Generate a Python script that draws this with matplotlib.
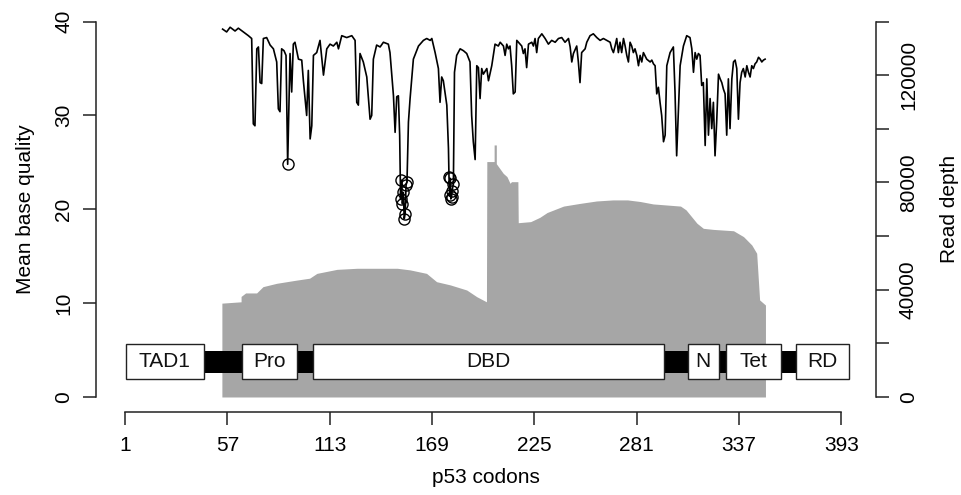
import matplotlib
matplotlib.use("Agg")
import matplotlib.pyplot as plt
from matplotlib.patches import Rectangle

plt.rcParams['font.family'] = ['Liberation Sans', 'DejaVu Sans']

# ---------------- data ----------------
qual_codon = [54.4, 56.6, 58.5, 61.2, 63.0, 65.8, 68.5, 70.3, 71.2, 72.1, 73.1, 74.0, 74.9, 75.8, 76.7,
              78.5, 80.4, 82.2, 84.0, 84.9, 85.8, 86.7, 88.0, 89.1, 90.0, 91.3, 92.2, 93.1, 94.0, 95.9,
              97.7, 98.6, 100.4, 101.3, 102.3, 103.2, 104.1, 105.9, 107.7, 109.6, 111.4, 113.2, 115.0,
              116.9, 117.8, 119.6, 122.3, 125.1, 126.9, 127.8, 128.7, 129.6, 131.4, 133.3, 135.1, 136.0,
              136.9, 138.7, 140.6, 142.4, 145.1, 146.0, 147.9, 148.8, 149.7, 150.6, 151.3, 151.8, 152.3,
              152.8, 153.3, 153.8, 154.3, 154.8, 155.3, 156.1, 157.0, 158.8, 161.6, 164.3, 166.1, 168.0,
              168.9, 170.7, 172.5, 173.4, 174.3, 175.2, 177.1, 178.0, 178.3, 178.7, 179.0, 179.3, 179.7,
              180.0, 180.7, 181.3, 182.5, 184.4, 186.2, 188.0, 189.8, 190.7, 191.6, 192.6, 193.5, 194.4,
              195.3, 196.2, 197.1, 199.0, 199.9, 201.7, 203.5, 205.3,
              206.3, 208.1, 209.0, 209.9, 210.8, 211.7, 212.6, 213.5, 214.5, 215.4, 217.2, 218.1, 219.0,
              219.9, 220.8, 221.8, 223.6, 224.5, 225.4, 226.3, 227.2, 229.1, 230.9, 232.7, 234.5, 236.4,
              238.2, 240.0, 241.8, 243.7, 244.6, 245.5, 246.4, 248.2, 249.1, 250.0, 250.9, 252.8, 253.7,
              255.5, 257.3, 259.2, 261.0, 262.8, 264.6, 266.5, 267.4, 268.3, 269.2, 270.1, 271.0, 271.9,
              272.8, 273.8, 274.7, 275.6, 276.5, 277.4, 278.3, 279.2, 280.1, 281.1, 282.0, 282.9, 283.8,
              284.7, 286.5, 288.4, 289.3, 290.2, 291.1, 292.0, 292.9, 293.8, 294.7, 295.7, 296.6, 297.5,
              299.3, 301.1, 302.0, 302.9, 303.9, 304.8, 306.6, 308.4, 310.2, 311.2, 312.1, 313.0, 313.9,
              314.8, 315.7, 316.6, 317.5, 318.5, 319.4, 320.3, 321.2, 322.1, 323.0, 323.9, 324.8, 325.8,
              326.7, 327.6, 328.5, 329.4, 330.3, 331.2, 332.1, 333.1, 334.0, 334.9, 335.8, 336.7, 337.6,
              338.5, 339.4, 340.4, 341.3, 342.2, 343.1, 344.0, 344.9, 345.8, 346.7, 347.7, 348.6, 349.5,
              350.4, 351.3]
qual_value = [39.2, 38.9, 39.4, 39.0, 39.3, 38.9, 38.5, 38.2, 29.1, 28.9, 37.1, 37.3, 33.5, 33.4, 38.2,
              38.3, 37.5, 37.1, 35.7, 30.7, 30.4, 37.1, 36.9, 36.4, 24.8, 36.6, 32.5, 37.6, 37.8, 36.0,
              35.9, 33.7, 30.0, 34.8, 27.5, 28.9, 36.4, 36.7, 38.0, 34.3, 37.1, 37.6, 37.4,
              37.8, 37.1, 38.5, 38.3, 38.5, 38.0, 31.4, 31.1, 36.6, 35.7, 34.1, 29.6, 30.0,
              36.0, 37.5, 37.3, 37.8, 37.6, 36.7, 32.1, 28.2, 32.0, 32.1, 27.9, 21.1, 23.1,
              20.6, 21.8, 19.0, 19.5, 22.6, 22.9, 29.3, 31.8, 36.0, 37.4, 38.0, 38.2, 38.0,
              38.2, 36.7, 35.0, 31.4, 34.1, 33.7, 31.1, 26.5, 23.4, 21.5, 23.3, 21.1, 21.3,
              22.0, 22.7, 34.6, 36.4, 37.1, 36.9, 36.6, 35.7, 30.0, 27.2, 25.3, 35.3, 35.1,
              31.8, 35.0, 34.4, 35.0, 33.7, 35.3, 37.6, 37.4,
              37.8, 37.4, 36.4, 37.6, 37.1, 37.4, 35.3, 32.3, 32.5, 38.0, 37.6, 37.4, 36.6,
              37.1, 35.1, 37.6, 37.8, 37.4, 38.2, 36.7, 38.2, 38.7, 38.2, 37.6, 38.0, 37.8,
              38.2, 38.3, 37.8, 38.2, 37.3, 35.7, 36.6, 37.4, 35.7, 33.5, 36.7, 37.1, 37.8,
              38.5, 38.7, 38.3, 38.0, 38.2, 38.0, 37.8, 37.1, 36.7, 37.4, 38.2, 36.7, 37.8,
              36.7, 38.2, 37.4, 36.4, 35.7, 37.8, 37.4, 36.7, 37.1, 36.4, 35.3, 36.4, 35.7,
              36.7, 36.0, 35.7, 35.9, 35.5, 35.3, 32.3, 33.0, 31.4, 30.0, 27.2, 27.9, 35.3,
              36.7, 37.3, 32.5, 25.7, 30.7, 35.3, 37.4, 38.5, 38.3, 37.1, 34.6, 36.7, 36.0,
              36.6, 36.4, 33.2, 33.5, 26.8, 33.9, 27.9, 31.8, 28.6, 31.4, 25.7, 29.3, 34.4,
              33.9, 33.5, 32.8, 32.3, 27.9, 33.9, 28.6, 33.9, 35.7, 35.9, 35.0, 29.6, 33.5,
              34.6, 35.0, 34.1, 35.3, 34.6, 34.1, 35.3, 35.0, 35.5, 35.7, 36.2, 36.0, 35.7,
              35.9, 36.0]
low_quality_threshold = 25

depth_codon = [54.0, 64.5, 64.5, 67.0, 73.0, 76.5, 84.0, 95.0, 102.0, 106.0, 117.0, 128.0, 150.0,
               157.0, 166.0, 171.5, 179.0, 188.0, 193.5, 198.8, 199.0, 203.0, 203.0, 204.2, 204.2,
               206.0, 208.0, 210.0, 211.7, 212.5, 216.0, 216.2, 223.0, 228.0, 232.0, 241.0, 250.0,
               259.0, 268.0, 276.0, 283.0, 290.0, 305.0, 308.0, 314.0, 317.5, 323.0, 334.0, 339.5,
               344.0, 346.7, 348.3, 351.5]
depth_value = [35000, 35500, 37500, 38800, 38800, 41150, 42400, 43600, 44300, 46100, 47600, 48000, 48000,
               47400, 46100, 43000, 41800, 39900, 37400, 35500, 87800, 87800, 94000, 94000, 87000,
               85300, 83400, 82200, 79700, 80300, 80300, 65000, 65400, 67000, 68800, 71200, 72200,
               73100, 73500, 73500, 72900, 72000, 71200, 69800, 64800, 62900, 62500, 62000, 59800,
               56700, 53600, 36200, 34300]

domain_names = ["TAD1", "Pro", "DBD", "N", "Tet", "RD"]
domain_start = [1.5, 65, 104, 309, 330, 368]
domain_end = [44, 95, 296, 326, 360, 397]
protein_start, protein_end = 44, 368

x_ticks = [1, 57, 113, 169, 225, 281, 337, 393]
q_ticks = [0, 10, 20, 30, 40]
depth_ticks = [0, 20000, 40000, 60000, 80000, 100000, 120000, 140000]
depth_labels = ["0", "", "40000", "", "80000", "", "120000", ""]

# ---------------- figure ----------------
FS = 15
fig = plt.figure(figsize=(9.62, 4.95), dpi=100)
ax = fig.add_axes([96/962, (495-412)/495, (876-96)/962, 405.4/495])
ax2 = ax.twinx()
ax.set_zorder(ax2.get_zorder() + 1)
ax.patch.set_visible(False)

ax.set_xlim(-14.9, 412)
ax.set_ylim(-1.6, 41.6)
ax2.set_ylim(-1.6/40*140000, 41.6/40*140000)

# depth area
ax2.fill_between(depth_codon, depth_value, 0, color='#a6a6a6', linewidth=0)

# protein backbone & domains
ax.add_patch(Rectangle((protein_start, 2.6), protein_end - protein_start, 2.35,
                       facecolor='black', edgecolor='none', zorder=2))
for name, s, e in zip(domain_names, domain_start, domain_end):
    ax.add_patch(Rectangle((s, 1.9), e - s, 3.7, facecolor='white',
                           edgecolor='#222222', linewidth=1.0, zorder=3))
    ax.text((s + e) / 2, 3.75, name, ha='center', va='center', fontsize=FS, zorder=4,
            color='#111111')

# quality line
ax.plot(qual_codon, qual_value, color='black', linewidth=1.2, zorder=5)
low_x = [c for c, v in zip(qual_codon, qual_value) if v < low_quality_threshold]
low_y = [v for v in qual_value if v < low_quality_threshold]
ax.plot(low_x, low_y, linestyle='none', marker='o', markersize=8, markerfacecolor='none',
        markeredgecolor='black', markeredgewidth=1.0, zorder=6)

# axes styling (R-like)
for a in (ax, ax2):
    a.spines['top'].set_visible(False)
ax.spines['right'].set_visible(False)
ax2.spines['left'].set_visible(False)
ax2.spines['bottom'].set_visible(False)
ax.spines['left'].set_bounds(0, 40)
ax.spines['bottom'].set_bounds(1, 393)
ax2.spines['right'].set_bounds(0, 140000)
for sp in (ax.spines['left'], ax.spines['bottom'], ax2.spines['right']):
    sp.set_linewidth(1.1)
    sp.set_color('#222222')

ax.set_xticks(x_ticks)
ax.set_xticklabels([str(t) for t in x_ticks])
ax.set_yticks(q_ticks)
ax.set_yticklabels([str(t) for t in q_ticks], rotation=90, va='center')
ax2.set_yticks(depth_ticks)
ax2.set_yticklabels(depth_labels, rotation=90, va='center')

ax.tick_params(axis='both', length=9.5, width=1.1, color='#222222', labelsize=FS, pad=7)
ax.tick_params(axis='x', pad=8)
ax2.tick_params(axis='y', length=9.5, width=1.1, color='#222222', labelsize=FS, pad=7)

ax.set_xlabel("p53 codons", fontsize=FS, labelpad=9)
ax.set_ylabel("Mean base quality", fontsize=FS, labelpad=14)
ax2.set_ylabel("Read depth", fontsize=FS, labelpad=16)

fig.savefig("out.png", dpi=100)
